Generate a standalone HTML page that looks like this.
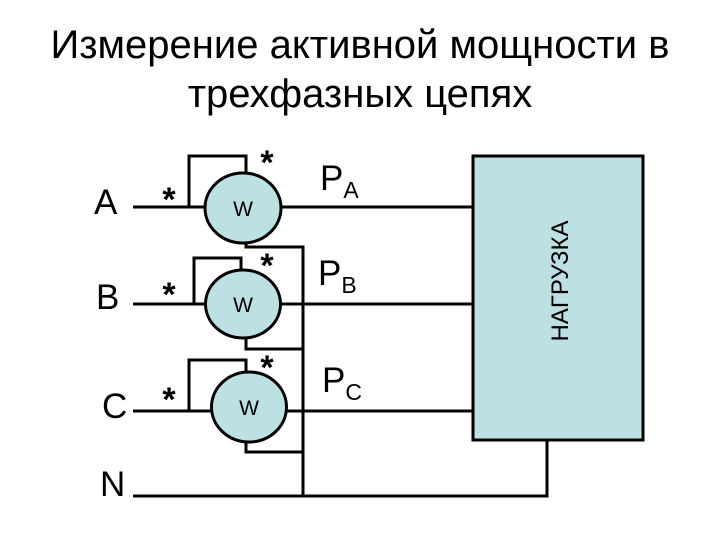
<!DOCTYPE html>
<html><head><meta charset="utf-8"><style>body{margin:0;background:#fff}</style></head><body>
<svg width="720" height="540" xmlns="http://www.w3.org/2000/svg" font-family="Liberation Sans, sans-serif">
<rect width="720" height="540" fill="#fff"/>
<text x="360" y="58" font-size="40" text-anchor="middle">Измерение активной мощности в</text>
<text x="360" y="107" font-size="40" text-anchor="middle">трехфазных цепях</text>
<g stroke="#000" stroke-width="3" fill="none">
<rect x="473" y="156" width="170" height="284" fill="#bde0e3"/>
<path d="M133 207H473M133 304H473M133 411H473M133 496H547V440"/>
<path d="M189 207V156H246V173M246 242V247H303V496"/>
<path d="M194 304V258H241V270M246 338V349H303"/>
<path d="M189 411V360H246V372M246 442V452H303"/>
<ellipse cx="243" cy="208" rx="38" ry="35" fill="#bde0e3"/>
<ellipse cx="243" cy="304" rx="37.5" ry="34" fill="#bde0e3"/>
<ellipse cx="249" cy="407" rx="37.5" ry="35" fill="#bde0e3"/>
</g>
<g font-size="21" text-anchor="middle"><text x="243" y="216">W</text><text x="243" y="312">W</text><text x="249" y="415">W</text></g>
<g font-size="35"><text x="94" y="214">A</text><text x="96" y="309">B</text><text x="102" y="418">C</text><text x="100" y="496">N</text></g>
<g font-size="34" font-weight="bold" text-anchor="middle"><text x="169" y="211">*</text><text x="267" y="174">*</text><text x="169" y="306">*</text><text x="267" y="277">*</text><text x="169" y="411">*</text><text x="267" y="379">*</text></g>
<g font-size="35"><text x="320" y="190">P<tspan font-size="23" dy="8">A</tspan></text><text x="318" y="285">P<tspan font-size="23" dy="8">B</tspan></text><text x="322" y="392">P<tspan font-size="23" dy="8">C</tspan></text></g>
<text transform="translate(568,281) rotate(-90)" font-size="24" text-anchor="middle">НАГРУЗКА</text>
</svg>
</body></html>
